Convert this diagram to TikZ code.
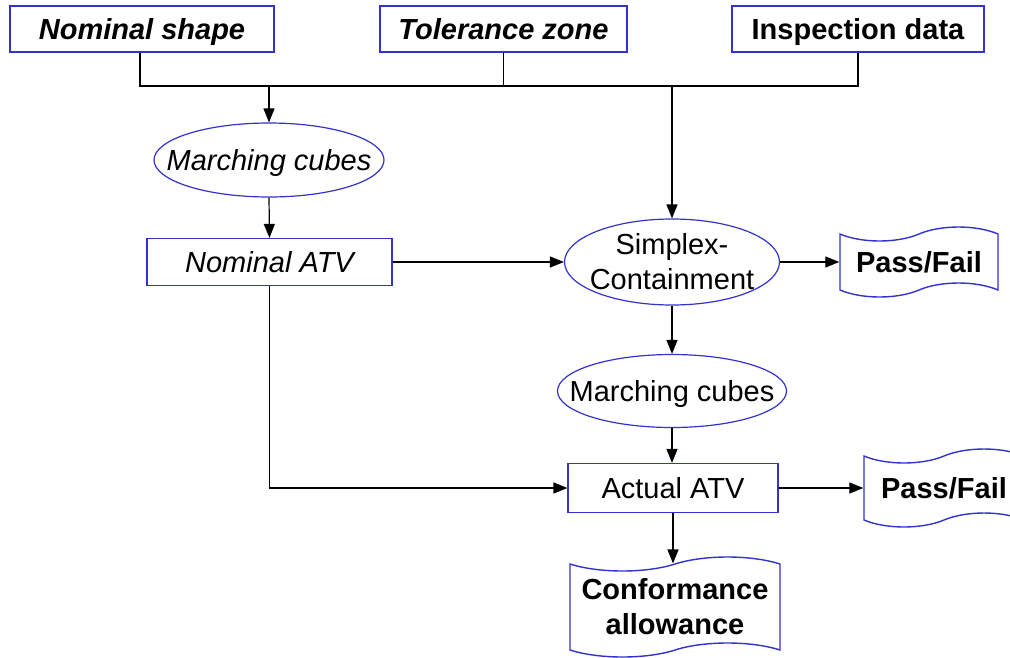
\documentclass[tikz,border=0pt]{standalone}
\usepackage{fontspec}
\setmainfont{Liberation Sans}
\usetikzlibrary{shapes.geometric,shapes.symbols,arrows.meta}
\definecolor{bord}{RGB}{51,51,204}
\begin{document}
\begin{tikzpicture}[x=1pt,y=-1pt,
  txt/.style={font=\fontsize{29}{35}\selectfont,align=center,inner sep=0pt},
  box/.style={txt,draw=bord,line width=1.2pt,rectangle,fill=white},
  topbox/.style={box,minimum height=46pt,text depth=0pt},
  oval/.style={txt,draw=bord,line width=1.2pt,ellipse,fill=white,inner xsep=-25pt},
  tapenode/.style={txt,draw=bord,line width=1.4pt,tape,tape bend top=in and out,
    tape bend bottom=in and out,tape bend height=14pt,fill=white,font=\fontsize{29}{35}\selectfont\bfseries},
  conn/.style={line width=1.2pt},
  arr/.style={conn,-{Triangle[length=14pt,width=11pt]}}]
\useasboundingbox (0,0) rectangle (1010,657);
% top boxes
\node[topbox,minimum width=264pt,font=\fontsize{29}{35}\selectfont\bfseries\itshape] (ns) at (142,29) {Nominal shape};
\node[topbox,minimum width=247pt,font=\fontsize{29}{35}\selectfont\bfseries\itshape] (tz) at (503.5,29) {Tolerance zone};
\node[topbox,minimum width=252pt,font=\fontsize{29}{35}\selectfont\bfseries] (id) at (858,29) {Inspection data};
% left column
\node[oval,minimum width=230pt,minimum height=74pt,text depth=0pt,font=\fontsize{29}{35}\selectfont\itshape] (mc1) at (269,160) {Marching cubes};
\node[box,minimum width=245pt,minimum height=47pt,font=\fontsize{29}{35}\selectfont\itshape] (natv) at (269.5,262) {Nominal ATV};
% right column
\node[oval,minimum width=215pt,minimum height=86pt] (sc) at (672,262) {Simplex-\\Containment};
\node[tapenode,minimum width=158pt,minimum height=70pt] (pf1) at (919,262) {Pass/Fail};
\node[oval,minimum width=229pt,minimum height=73pt,text depth=0pt] (mc2) at (672,391) {Marching cubes};
\node[box,minimum width=210pt,minimum height=49pt] (aatv) at (673,488) {Actual ATV};
\node[tapenode,minimum width=160pt,minimum height=78pt] (pf2) at (944,488) {Pass/Fail};
\node[tapenode,minimum width=210pt,minimum height=100pt] (ca) at (675,607) {Conformance\\allowance};
% bus
\coordinate (busL) at (140,86);
\coordinate (busR) at (858,86);
\draw[conn] (ns.south -| busL) -- (busL) -- (busR) -- (id.south -| busR);
\draw[conn] (tz.south) -- (tz.south |- busL);
\draw[arr] (mc1.north |- busL) -- (mc1.north);
\draw[arr] (sc.north |- busL) -- (sc.north);
% flow
\draw[arr] (mc1.south) -- (natv.north);
\draw[arr] (natv.east) -- (sc.west);
\draw[arr] (sc.east) -- (pf1.west);
\draw[arr] (sc.south) -- (mc2.north);
\draw[arr] (mc2.south) -- (mc2.south |- aatv.north);
\draw[arr] (natv.south) |- (aatv.west);
\draw[arr] (aatv.east) -- (pf2.west);
\draw[arr] (aatv.south) -- (aatv.south |- ca.north);
\end{tikzpicture}
\end{document}
